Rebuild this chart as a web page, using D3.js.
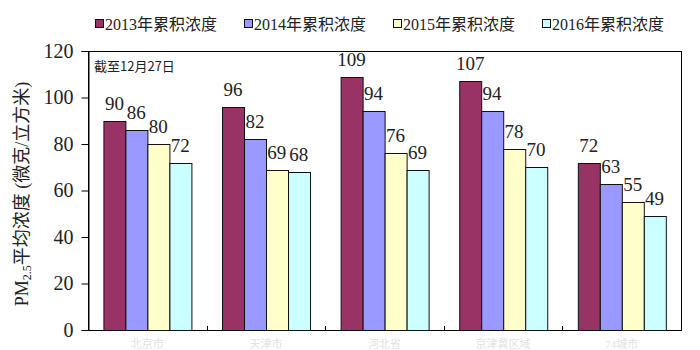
<!DOCTYPE html>
<html>
<head>
<meta charset="utf-8">
<script src="https://cdn.jsdelivr.net/npm/d3@7/dist/d3.min.js"></script>
<style>
  html, body { margin: 0; padding: 0; background: #fff; overflow: hidden; }
  svg { display: block; }
</style>
</head>
<body>
<svg id="chart" width="700" height="350"></svg>
<script>
const categories = ["北京市", "天津市", "河北省", "京津冀区域", "74城市"];
const seriesNames = ["2013年累积浓度", "2014年累积浓度", "2015年累积浓度", "2016年累积浓度"];
const values2013 = [90, 96, 109, 107, 72];
const values2014 = [86, 82, 94, 94, 63];
const values2015 = [80, 69, 76, 78, 55];
const values2016 = [72, 68, 69, 70, 49];
const yTicks = [0, 20, 40, 60, 80, 100, 120];
const colors = ["#993366", "#9999FF", "#FFFFCC", "#CCFFFF"];
const note = "截至12月27日";

const series = [values2013, values2014, values2015, values2016];

const serif = "'Liberation Serif', 'Times New Roman', 'DejaVu Serif', 'Noto Sans CJK SC', serif";
const svg = d3.select("#chart");

const plot = { left: 88, right: 681, top: 51, bottom: 330 };

const y = d3.scaleLinear().domain([0, 120]).range([plot.bottom, plot.top]);
const x0 = d3.scaleBand().domain(categories).range([plot.left, plot.right])
  .paddingInner(0.26).paddingOuter(0.13);
const x1 = d3.scaleBand().domain(d3.range(series.length)).range([0, x0.bandwidth()]);

// frame
svg.append("rect")
  .attr("x", plot.left + 0.5).attr("y", plot.top + 0.5)
  .attr("width", plot.right - plot.left).attr("height", plot.bottom - plot.top)
  .attr("fill", "none").attr("stroke", "#000").attr("stroke-width", 1);

// y axis
const yAxis = d3.axisLeft(y).tickValues(yTicks).tickSize(7).tickPadding(8);
const gy = svg.append("g").attr("transform", `translate(${plot.left + 0.5},0)`).call(yAxis);
gy.select(".domain").attr("stroke", "#000");
gy.selectAll(".tick line").attr("stroke", "#000");
gy.selectAll(".tick text")
  .attr("font-family", serif).attr("font-size", 20).attr("fill", "#222");

// x axis (ticks at group boundaries, inward)
const bounds = categories.slice(1).map(c => x0(c) - x0.step() * x0.paddingInner() / 2);
svg.append("g").selectAll("line").data(bounds).join("line")
  .attr("x1", d => Math.round(d) + 0.5).attr("x2", d => Math.round(d) + 0.5)
  .attr("y1", plot.bottom + 0.5).attr("y2", plot.bottom - 4)
  .attr("stroke", "#000");

// category labels (faint at bottom of picture, as in the reference)
svg.append("g").selectAll("text").data(categories).join("text")
  .attr("x", d => x0(d) + x0.bandwidth() / 2)
  .attr("y", 348)
  .attr("text-anchor", "middle")
  .attr("font-family", serif).attr("font-size", 11)
  .attr("fill", "#e2e2e2")
  .text(d => d);

// bars
const groups = svg.append("g").selectAll("g").data(categories).join("g")
  .attr("transform", d => `translate(${x0(d)},0)`);

groups.selectAll("rect")
  .data((c, i) => series.map((s, k) => ({ k, v: s[i] })))
  .join("rect")
  .attr("x", d => Math.round(x1(d.k)) + 0.5)
  .attr("y", d => Math.round(y(d.v)) + 0.5)
  .attr("width", Math.round(x1.bandwidth()))
  .attr("height", d => plot.bottom - Math.round(y(d.v)))
  .attr("fill", d => colors[d.k])
  .attr("stroke", "#111").attr("stroke-width", 1);

groups.selectAll("text.val")
  .data((c, i) => series.map((s, k) => ({ k, v: s[i] })))
  .join("text").attr("class", "val")
  .attr("x", d => x1(d.k) + x1.bandwidth() / 2)
  .attr("y", d => y(d.v) - 11)
  .attr("text-anchor", "middle")
  .attr("font-family", serif).attr("font-size", 19).attr("fill", "#222")
  .text(d => d.v);

// note
svg.append("text")
  .attr("x", 94).attr("y", 71)
  .attr("font-family", "'Noto Sans CJK SC', 'DejaVu Sans', sans-serif")
  .attr("font-size", 13).attr("fill", "#222")
  .text(note);

// legend
const lg = svg.append("g").selectAll("g").data(seriesNames).join("g")
  .attr("transform", (d, i) => `translate(${95 + i * 149},0)`);
lg.append("rect")
  .attr("x", 0.5).attr("y", 19.5).attr("width", 8).attr("height", 8)
  .attr("fill", (d, i) => colors[i]).attr("stroke", "#111");
lg.append("text")
  .attr("x", 10).attr("y", 30)
  .attr("font-family", serif).attr("font-size", 16).attr("fill", "#222")
  .text(d => d);

// y title
const yt = svg.append("text")
  .attr("transform", "translate(28,194) rotate(-90)")
  .attr("text-anchor", "middle")
  .attr("font-family", serif).attr("font-size", 18).attr("fill", "#222");
yt.append("tspan").text("PM");
yt.append("tspan").attr("font-size", 12).attr("dy", 3).text("2.5");
yt.append("tspan").attr("dy", -3).text("平均浓度 (微克/立方米)");
</script>
</body>
</html>
